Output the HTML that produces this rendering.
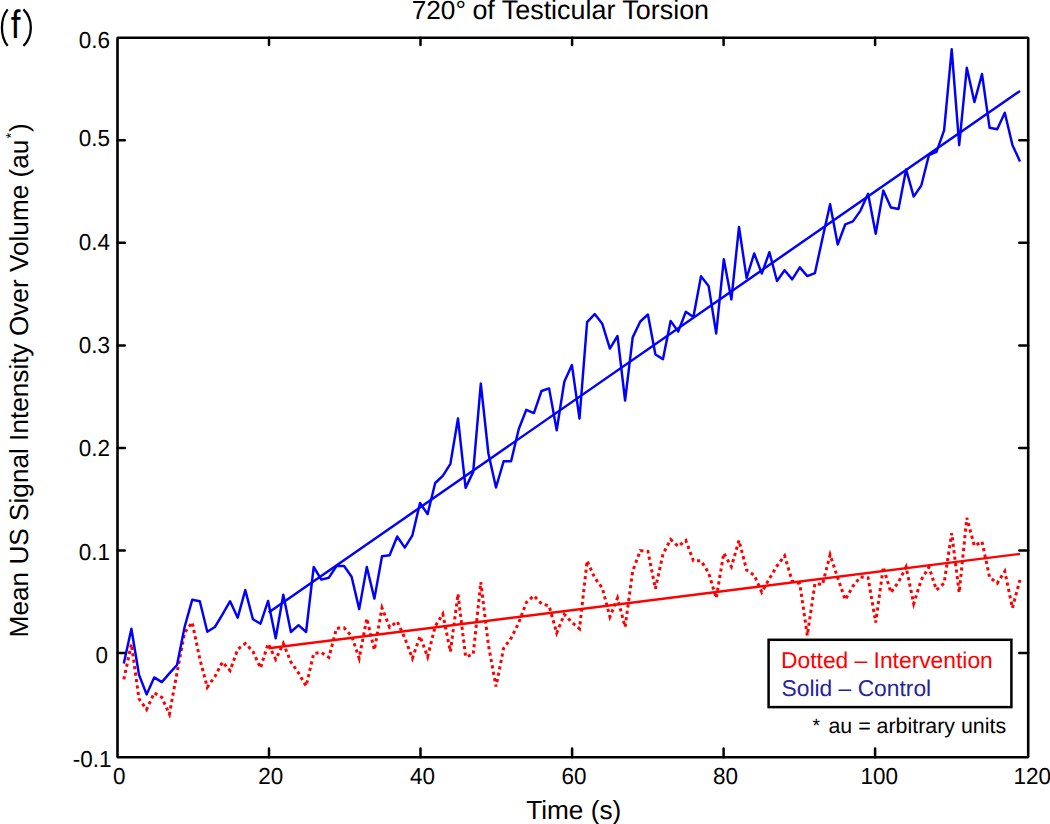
<!DOCTYPE html>
<html><head><meta charset="utf-8"><style>
html,body{margin:0;padding:0;background:#fff;width:1050px;height:824px;overflow:hidden}
svg{display:block}
text{font-family:"Liberation Sans",sans-serif;fill:#000;text-rendering:geometricPrecision}
.tk{font-size:23.2px}
</style></head><body>
<svg width="1050" height="824" viewBox="0 0 1050 824">
<rect width="1050" height="824" fill="#fff"/>
<path d="M7.7 9.4C0 19 0 36.3 7.7 45.9M23.4 9.4C33.3 19 33.3 36.3 23.4 45.9" stroke="#000" stroke-width="2.3" fill="none"/>
<text transform="translate(10.7,37.8) scale(0.88,1)" style="font-size:39.6px">f</text>
<text x="411.7" y="18.9" style="font-size:26.2px">720&#176;</text>
<text x="472.4" y="18.9" style="font-size:26.9px">of Testicular Torsion</text>
<polyline points="123.8,679.4 131.4,644.0 139.0,698.8 146.6,709.5 154.2,692.8 161.8,697.4 169.4,714.1 177.0,672.7 184.6,632.7 192.2,622.4 199.8,659.0 207.3,687.2 214.9,676.5 222.5,662.0 230.1,670.7 237.7,649.3 245.3,643.5 252.9,651.3 260.5,668.0 268.1,643.7 275.7,659.3 283.3,643.5 290.9,662.0 298.5,672.9 306.1,686.1 313.7,653.5 321.3,652.5 328.9,657.4 336.5,628.3 344.1,627.9 351.6,636.0 359.2,658.3 366.8,618.5 374.4,650.0 382.0,607.9 389.6,627.3 397.2,621.5 404.8,638.0 412.4,658.3 420.0,636.2 427.6,656.8 435.2,626.2 442.8,614.0 450.4,651.7 458.0,594.0 465.6,656.8 473.2,654.3 480.8,582.1 488.4,645.0 496.0,686.5 503.6,648.3 511.1,638.1 518.7,622.9 526.3,602.5 533.9,595.7 541.5,603.8 549.1,605.9 556.7,633.0 564.3,614.4 571.9,622.4 579.5,628.7 587.1,560.8 594.7,577.8 602.3,588.0 609.9,616.8 617.5,598.1 625.1,627.0 632.7,571.0 640.3,550.6 647.9,551.4 655.4,588.8 663.0,554.0 670.6,539.5 678.2,546.3 685.8,540.4 693.4,560.8 701.0,560.8 708.6,572.7 716.2,598.1 723.8,553.1 731.4,566.7 739.0,540.4 746.6,570.1 754.2,575.2 761.8,592.2 769.4,578.6 777.0,565.9 784.6,555.7 792.2,581.2 799.8,583.7 807.3,635.5 814.9,583.7 822.5,584.5 830.1,554.8 837.7,577.8 845.3,599.8 852.9,586.2 860.5,576.9 868.1,577.8 875.7,622.5 883.3,567.1 890.9,592.6 898.5,582.0 906.1,567.1 913.7,603.6 921.3,579.8 928.9,567.1 936.5,590.0 944.1,583.2 951.7,533.1 959.2,592.6 966.8,517.8 974.4,545.9 982.0,541.6 989.6,577.3 997.2,583.2 1004.8,571.3 1012.4,607.9 1020.0,579.8" fill="none" stroke="#f00" stroke-width="3.0" stroke-dasharray="3.2 3.3"/>
<polyline points="268.6,648.3 1020.0,553.9" fill="none" stroke="#f00" stroke-width="2.4"/>
<polyline points="123.8,663.4 131.4,628.7 139.0,674.8 146.6,694.4 154.2,677.4 161.8,682.1 169.4,673.4 177.0,665.0 184.6,627.0 192.2,599.8 199.8,601.2 207.3,631.8 214.9,627.0 222.5,614.4 230.1,601.2 237.7,617.7 245.3,590.1 252.9,619.2 260.5,623.7 268.1,600.9 275.7,638.3 283.3,594.8 290.9,632.0 298.5,625.2 306.1,632.0 313.7,567.0 321.3,579.6 328.9,577.7 336.5,566.0 344.1,566.0 351.6,576.7 359.2,609.1 366.8,567.0 374.4,598.6 382.0,556.3 389.6,555.3 397.2,536.5 404.8,547.6 412.4,535.3 420.0,503.0 427.6,514.1 435.2,483.0 442.8,475.8 450.4,463.8 458.0,418.5 465.6,487.9 473.2,471.9 480.8,383.6 488.4,453.5 496.0,487.5 503.6,461.3 511.1,461.3 518.7,429.2 526.3,409.8 533.9,413.1 541.5,391.0 549.1,388.4 556.7,430.2 564.3,381.7 571.9,365.0 579.5,418.6 587.1,322.2 594.7,314.1 602.3,323.8 609.9,348.6 617.5,336.0 625.1,400.5 632.7,337.4 640.3,321.5 647.9,314.5 655.4,354.5 663.0,359.1 670.6,320.9 678.2,331.6 685.8,311.7 693.4,317.0 701.0,276.2 708.6,285.9 716.2,333.5 723.8,259.3 731.4,299.4 739.0,227.0 746.6,278.1 754.2,253.4 761.8,273.6 769.4,252.2 777.0,281.0 784.6,270.3 792.2,279.4 799.8,267.4 807.3,276.1 814.9,273.2 822.5,238.3 830.1,204.3 837.7,244.5 845.3,224.3 852.9,221.4 860.5,210.6 868.1,193.8 875.7,233.8 883.3,190.6 890.9,207.5 898.5,209.0 906.1,169.4 913.7,196.6 921.3,185.5 928.9,155.2 936.5,151.8 944.1,130.3 951.7,49.3 959.2,145.2 966.8,67.8 974.4,102.1 982.0,74.0 989.6,127.8 997.2,129.3 1004.8,112.8 1012.4,144.9 1020.0,161.4" fill="none" stroke="#00f" stroke-width="2.45" stroke-linejoin="round"/>
<polyline points="268.6,612.6 1020.0,90.9" fill="none" stroke="#00f" stroke-width="2.45"/>
<path d="M117.50 37.75H1028.20V757.30H117.50Z" fill="none" stroke="#000" stroke-width="2.6" stroke-linejoin="bevel"/>
<path d="M269.00 757.30V748.40M269.00 37.75V44.90M420.50 757.30V748.40M420.50 37.75V44.90M572.10 757.30V748.40M572.10 37.75V44.90M723.60 757.30V748.40M723.60 37.75V44.90M875.10 757.30V748.40M875.10 37.75V44.90M117.50 140.30H124.80M1028.20 140.30H1019.30M117.50 242.85H124.80M1028.20 242.85H1019.30M117.50 345.40H124.80M1028.20 345.40H1019.30M117.50 447.95H124.80M1028.20 447.95H1019.30M117.50 550.50H124.80M1028.20 550.50H1019.30M117.50 653.10H124.80M1028.20 653.10H1019.30" stroke="#000" stroke-width="2.5" fill="none" stroke-linecap="round"/>
<text transform="translate(78.70,47.80) scale(0.97,1)" class="tk">0.6</text>
<text transform="translate(78.70,146.10) scale(0.97,1)" class="tk">0.5</text>
<text transform="translate(78.70,249.60) scale(0.97,1)" class="tk">0.4</text>
<text transform="translate(78.70,353.00) scale(0.97,1)" class="tk">0.3</text>
<text transform="translate(78.70,455.80) scale(0.97,1)" class="tk">0.2</text>
<text transform="translate(78.70,559.50) scale(0.97,1)" class="tk">0.1</text>
<text transform="translate(95.60,662.50) scale(0.97,1)" class="tk">0</text>
<text transform="translate(72.70,766.60) scale(0.97,1)" class="tk">-0.1</text>

<text transform="translate(119.20,784.0) scale(0.97,1)" text-anchor="middle" class="tk">0</text>
<text transform="translate(270.75,784.0) scale(0.97,1)" text-anchor="middle" class="tk">20</text>
<text transform="translate(422.40,784.0) scale(0.97,1)" text-anchor="middle" class="tk">40</text>
<text transform="translate(573.90,784.0) scale(0.97,1)" text-anchor="middle" class="tk">60</text>
<text transform="translate(725.40,784.0) scale(0.97,1)" text-anchor="middle" class="tk">80</text>
<text transform="translate(879.20,784.0) scale(0.97,1)" text-anchor="middle" class="tk">100</text>
<text transform="translate(1032.30,784.0) scale(0.97,1)" text-anchor="middle" class="tk">120</text>

<text x="526.2" y="819" style="font-size:26.2px">Time (s)</text>
<text transform="translate(27.8,637.4) rotate(-90)" style="font-size:26.2px">Mean US Signal Intensity Over Volume (au<tspan dx="1.2" dy="-11.5" style="font-size:14.6px">*</tspan><tspan dx="0.6" dy="11.5">)</tspan></text>
<rect x="768.6" y="639.8" width="242.8" height="67.3" fill="#fff" stroke="#000" stroke-width="2.5"/>
<text x="781.1" y="667.7" style="font-size:22.8px;fill:#f00">Dotted &#8211; Intervention</text>
<text x="781.6" y="695.6" style="font-size:22.8px;fill:#24249c">Solid &#8211; Control</text>
<text x="812.5" y="732.2" style="font-size:19.4px">*</text>
<text x="828.4" y="733.3" style="font-size:21.4px">au = arbitrary units</text>
</svg>
</body></html>
